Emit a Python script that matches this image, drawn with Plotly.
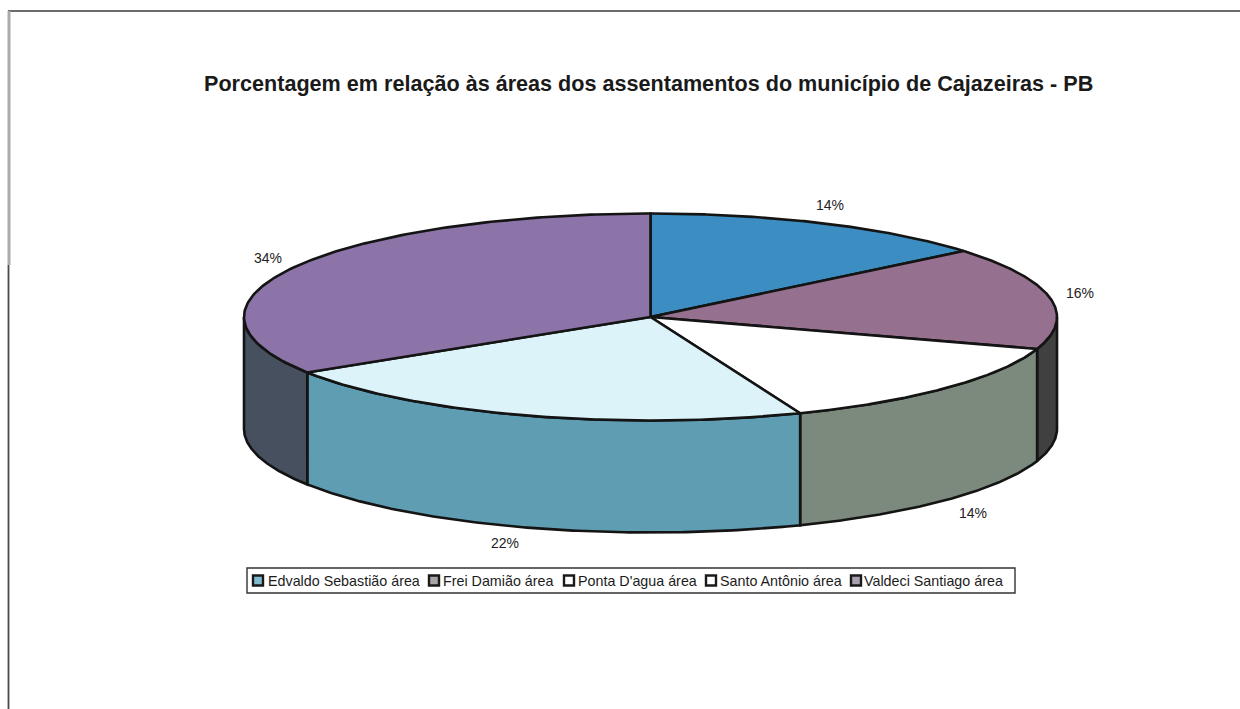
import numpy as np
import plotly.graph_objects as go

# Settlement areas, share of the municipal total (%)
settlements = ["Edvaldo Sebastião área", "Frei Damião área", "Ponta D'agua área",
               "Santo Antônio área", "Valdeci Santiago área"]
shares = [14, 16, 14, 22, 34]

title_text = "Porcentagem em relação às áreas dos assentamentos do município de Cajazeiras - PB"

top_colors = ["#3C8DC2", "#96708F", "#FFFFFF", "#DDF3FA", "#8C74A8"]
side_colors = ["#2A4F70", "#404040", "#7B8A7C", "#5F9DB3", "#47505F"]
swatch_colors = ["#7FBAD0", "#ABA6A6", "#FFFFFF", "#FFFFFF", "#A8A0AE"]

# Ellipse of the pie's upper face, in page pixels
CX, CY, RX, RY, DEPTH = 650.5, 317, 406.5, 103.5, 112
OUTLINE = "#141414"

# Pixel nudges of each percentage away from the rim at the slice's mid angle
label_nudges = [(6, -18), (30, -5), (26, 13), (-20, 16), (-26, -9)]

# Legend layout in page pixels
legend_box = (247, 568, 1015, 593)
legend_swatch_x = [258, 434, 569, 711, 856]
legend_text_x = [266, 441, 576, 718, 862]
LEGEND_Y = 580.5


def rim(deg, drop=0.0):
    """Point(s) on the rim; angles run clockwise from twelve o'clock."""
    a = np.radians(deg)
    return CX + RX * np.sin(a), CY - RY * np.cos(a) + drop


fig = go.Figure()

edges = np.concatenate([[0], np.cumsum(shares)]) * 3.6

# Side wall: only the part of the rim facing the viewer (90 to 270 degrees)
for i, color in enumerate(side_colors):
    lo, hi = max(edges[i], 90), min(edges[i + 1], 270)
    if hi <= lo:
        continue
    t = np.linspace(lo, hi, 120)
    x1, y1 = rim(t)
    x2, y2 = rim(t[::-1], DEPTH)
    fig.add_trace(go.Scatter(
        x=np.r_[x1, x2, x1[0]], y=np.r_[y1, y2, y1[0]],
        mode="lines", fill="toself", fillcolor=color,
        line=dict(color=OUTLINE, width=2.6), hoverinfo="skip", showlegend=False))

# Upper face slices
for i, color in enumerate(top_colors):
    t = np.linspace(edges[i], edges[i + 1], 160)
    x, y = rim(t)
    fig.add_trace(go.Scatter(
        x=np.r_[CX, x, CX], y=np.r_[CY, y, CY],
        mode="lines", fill="toself", fillcolor=color,
        line=dict(color=OUTLINE, width=2.6), hoverinfo="skip", showlegend=False))

# Percentage labels
for i, value in enumerate(shares):
    mid = (edges[i] + edges[i + 1]) / 2
    x, y = rim(mid, DEPTH if 90 < mid < 270 else 0)
    dx, dy = label_nudges[i]
    fig.add_annotation(x=x + dx, y=y + dy, text=f"{value}%", showarrow=False,
                       font=dict(family="Liberation Sans", size=14, color="#222222"))

# Legend swatches and names
fig.add_trace(go.Scatter(
    x=legend_swatch_x, y=[LEGEND_Y] * len(settlements), mode="markers",
    marker=dict(symbol="square", size=10, color=swatch_colors,
                line=dict(color="#1A1A1A", width=2.4)),
    hoverinfo="skip", showlegend=False))
for name, x in zip(settlements, legend_text_x):
    fig.add_annotation(x=x, y=LEGEND_Y, text=name, showarrow=False, xanchor="left",
                       font=dict(family="Liberation Sans", size=14.3, color="#1C1C1C"))

shapes = [
    dict(type="rect", x0=legend_box[0], y0=legend_box[1], x1=legend_box[2], y1=legend_box[3],
         line=dict(color="#333333", width=1.4), layer="below"),
    # Page frame along the top and left
    dict(type="line", x0=8, y0=11, x1=1240, y1=11, line=dict(color="#3A3A3A", width=1.6)),
    dict(type="line", x0=9, y0=11, x1=9, y1=265, line=dict(color="#ABABAB", width=3)),
    dict(type="line", x0=8.5, y0=265, x1=8.5, y1=709, line=dict(color="#4A4A4A", width=1.8)),
]

fig.add_annotation(x=648, y=83, text=f"<b>{title_text}</b>", showarrow=False,
                   font=dict(family="Liberation Sans", size=21.6, color="#1A1A1A"))

fig.update_layout(
    width=1240, height=709, margin=dict(l=0, r=0, t=0, b=0),
    paper_bgcolor="white", plot_bgcolor="white", shapes=shapes, showlegend=False,
    xaxis=dict(range=[0, 1240], visible=False, fixedrange=True),
    yaxis=dict(range=[709, 0], visible=False, fixedrange=True),
)

fig.write_html("out.html")
